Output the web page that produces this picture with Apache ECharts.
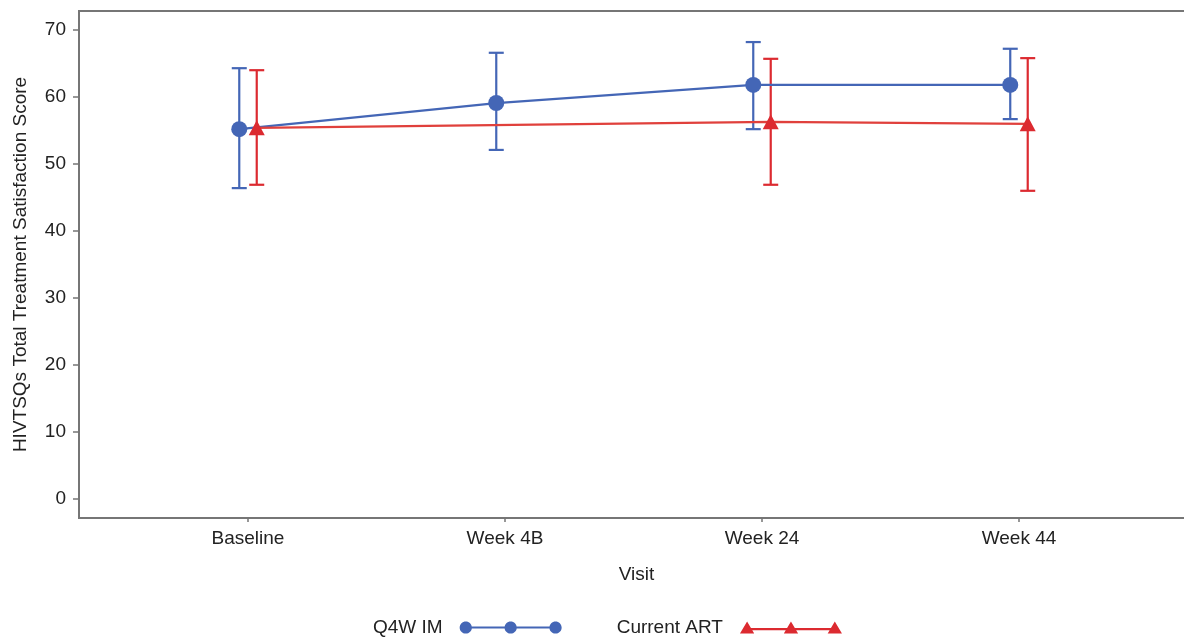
<!DOCTYPE html>
<html>
<head>
<meta charset="utf-8">
<title>HIVTSQs Total Treatment Satisfaction Score by Visit</title>
<script src="https://cdn.jsdelivr.net/npm/echarts@6/dist/echarts.min.js"></script>
<style>
  html, body { margin: 0; padding: 0; background: #fff; }
  #chart { width: 1184px; height: 640px; }
</style>
</head>
<body>
<div id="chart"></div>
<script>
// Visits on the x axis
const visits = ['Baseline', 'Week 4B', 'Week 24', 'Week 44'];

// Q4W IM: mean and error-bar limits per visit
const q4wMean = [55.2, 59.1, 61.8, 61.8];
const q4wLow  = [46.4, 52.1, 55.2, 56.7];
const q4wHigh = [64.3, 66.6, 68.2, 67.2];

// Current ART: mean and error-bar limits per visit (no value at Week 4B)
const artMean = [55.4, null, 56.3, 56.0];
const artLow  = [46.9, null, 46.9, 46.0];
const artHigh = [64.0, null, 65.7, 65.8];

// Y-axis tick labels
const yTicks = [0, 10, 20, 30, 40, 50, 60, 70];

const blue = '#4466b6';
const red = '#dc2a30';
const fontFamily = '"Liberation Sans", Arial, sans-serif';
const fontSize = 19;

// Each group is nudged sideways so the error bars do not overlap
const dodge = 0.034;

function points(mean, shift) {
  const out = [];
  mean.forEach((v, i) => { if (v != null) out.push([i + shift, v]); });
  return out;
}
function bars(low, high, shift) {
  const out = [];
  low.forEach((v, i) => { if (v != null) out.push([i + shift, v, high[i]]); });
  return out;
}

function errorBar(color) {
  return function (params, api) {
    const x = api.value(0);
    const lo = api.coord([x, api.value(1)]);
    const hi = api.coord([x, api.value(2)]);
    const half = 7.5;
    const style = { stroke: color, lineWidth: 2.2 };
    return {
      type: 'group',
      children: [
        { type: 'line', shape: { x1: lo[0], y1: lo[1], x2: hi[0], y2: hi[1] }, style },
        { type: 'line', shape: { x1: hi[0] - half, y1: hi[1], x2: hi[0] + half, y2: hi[1] }, style },
        { type: 'line', shape: { x1: lo[0] - half, y1: lo[1], x2: lo[0] + half, y2: lo[1] }, style }
      ]
    };
  };
}

// Legend icons: a line with three markers on it
function circlePath(cx, cy, r) {
  const k = 0.5523 * r;
  return 'M' + (cx - r) + ' ' + cy +
    'C' + (cx - r) + ' ' + (cy - k) + ' ' + (cx - k) + ' ' + (cy - r) + ' ' + cx + ' ' + (cy - r) +
    'C' + (cx + k) + ' ' + (cy - r) + ' ' + (cx + r) + ' ' + (cy - k) + ' ' + (cx + r) + ' ' + cy +
    'C' + (cx + r) + ' ' + (cy + k) + ' ' + (cx + k) + ' ' + (cy + r) + ' ' + cx + ' ' + (cy + r) +
    'C' + (cx - k) + ' ' + (cy + r) + ' ' + (cx - r) + ' ' + (cy + k) + ' ' + (cx - r) + ' ' + cy + 'Z';
}
const circleIcon = 'path://M6 4.9L94 4.9L94 7.1L6 7.1Z' +
  circlePath(6, 6, 6) + circlePath(50, 6, 6) + circlePath(94, 6, 6);
const triangleIcon = 'path://M7 6.4L93 6.4L93 8.6L7 8.6Z' +
  'M0 12L7 0L14 12Z' +
  'M43 12L50 0L57 12Z' +
  'M86 12L93 0L100 12Z';

const chart = echarts.init(document.getElementById('chart'), null, { renderer: 'canvas' });

chart.setOption({
  animation: false,
  textStyle: { fontFamily },
  grid: {
    left: 79, top: 11, width: 1115, height: 507,
    outerBoundsMode: 'none',
    containLabel: false,
    show: true, borderColor: '#767676', borderWidth: 2, backgroundColor: 'transparent'
  },
  legend: {
    left: 368, top: 613,
    align: 'right',
    itemGap: 55,
    itemWidth: 102,
    itemHeight: 13,
    textStyle: { fontFamily, fontSize, color: '#222', padding: [0, 12, 0, 0] },
    data: [
      { name: 'Q4W IM', icon: circleIcon, itemStyle: { color: blue } },
      { name: 'Current ART', icon: triangleIcon, itemStyle: { color: red } }
    ]
  },
  xAxis: {
    type: 'value',
    min: -0.6576,
    max: 3.681,
    name: 'Visit',
    nameLocation: 'middle',
    nameGap: 47,
    nameTextStyle: { fontFamily, fontSize, color: '#222' },
    axisLine: { show: false, onZero: false },
    splitLine: { show: false },
    axisTick: { show: true, length: 4, customValues: [0, 1, 2, 3], lineStyle: { color: '#767676', width: 1.5 } },
    axisLabel: {
      customValues: [0, 1, 2, 3],
      formatter: v => visits[Math.round(v)],
      fontFamily, fontSize, color: '#222', margin: 11
    }
  },
  yAxis: {
    type: 'value',
    min: -2.836,
    max: 72.836,
    name: 'HIVTSQs Total Treatment Satisfaction Score',
    nameLocation: 'middle',
    nameGap: 49,
    nameTextStyle: { fontFamily, fontSize, color: '#222' },
    axisLine: { show: false, onZero: false },
    splitLine: { show: false },
    axisTick: { show: true, length: 6, customValues: yTicks, lineStyle: { color: '#767676', width: 1.5 } },
    axisLabel: {
      customValues: yTicks,
      fontFamily, fontSize, color: '#222', margin: 13
    }
  },
  series: [
    {
      name: 'Q4W IM error',
      type: 'custom',
      renderItem: errorBar(blue),
      data: bars(q4wLow, q4wHigh, -dodge),
      encode: { x: 0, y: [1, 2] },
      z: 2
    },
    {
      name: 'Current ART error',
      type: 'custom',
      renderItem: errorBar(red),
      data: bars(artLow, artHigh, dodge),
      encode: { x: 0, y: [1, 2] },
      z: 2
    },
    {
      name: 'Q4W IM',
      type: 'line',
      data: points(q4wMean, -dodge),
      symbol: 'circle',
      symbolSize: 16,
      color: blue,
      lineStyle: { color: blue, width: 2.2 },
      itemStyle: { color: blue },
      z: 3
    },
    {
      name: 'Current ART',
      type: 'line',
      data: points(artMean, dodge),
      symbol: 'triangle',
      symbolSize: [16, 15],
      color: red,
      lineStyle: { color: '#e0403c', width: 2.2 },
      itemStyle: { color: red },
      z: 4
    }
  ]
});
</script>
</body>
</html>
